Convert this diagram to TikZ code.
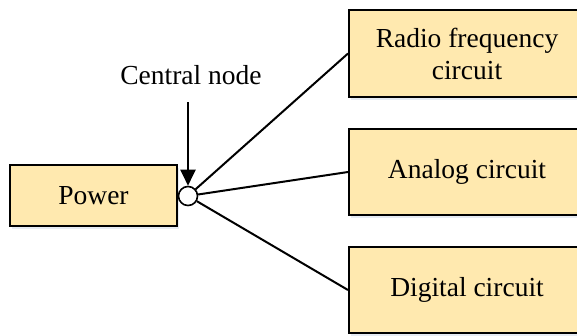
\documentclass[tikz,border=0pt]{standalone}
\usepackage{fontspec}
\setmainfont{Liberation Serif}
\usetikzlibrary{arrows.meta,shadows}
\definecolor{boxfill}{HTML}{FFE9AF}
\definecolor{shadowc}{HTML}{9DB0D0}
\tikzset{
  blk/.style={draw=black, line width=2pt, fill=boxfill, rectangle, inner sep=0pt,
    font=\fontsize{27.5pt}{32pt}\selectfont, align=center,
    drop shadow={opacity=0.25, fill=shadowc, shadow xshift=2pt, shadow yshift=-3pt}},
  conn/.style={line width=2pt, black},
  hub/.style={circle, draw=black, line width=1.6pt, fill=white, minimum size=19pt, inner sep=0pt},
}
\begin{document}
\begin{tikzpicture}[x=1pt,y=-1pt]
\useasboundingbox (0,0) rectangle (577,335);
\clip (0,0) rectangle (577,335);
\node[blk, minimum width=167pt, minimum height=61pt] (power) at (93.5,195.5) {Power};
\node[blk, minimum width=236pt, minimum height=87pt] (rf) at (467,53.5) {Radio frequency\\circuit};
\node[blk, minimum width=236pt, minimum height=86pt] (an) at (467,172) {Analog circuit};
\node[blk, minimum width=236pt, minimum height=86pt] (dg) at (467,290) {Digital circuit};
\node[hub] (c) at (188,196) {};
\node[font=\fontsize{27.5pt}{32pt}\selectfont] (lbl) at (191,75) {Central node};
\coordinate (a0) at (188,102);
\draw[conn] (c) -- (rf.west);
\draw[conn] (c) -- (an.west);
\draw[conn] (c) -- (dg.west);
\draw[conn, -{Triangle[length=16pt,width=15pt]}] (a0) -- (c.north);
\end{tikzpicture}
\end{document}
